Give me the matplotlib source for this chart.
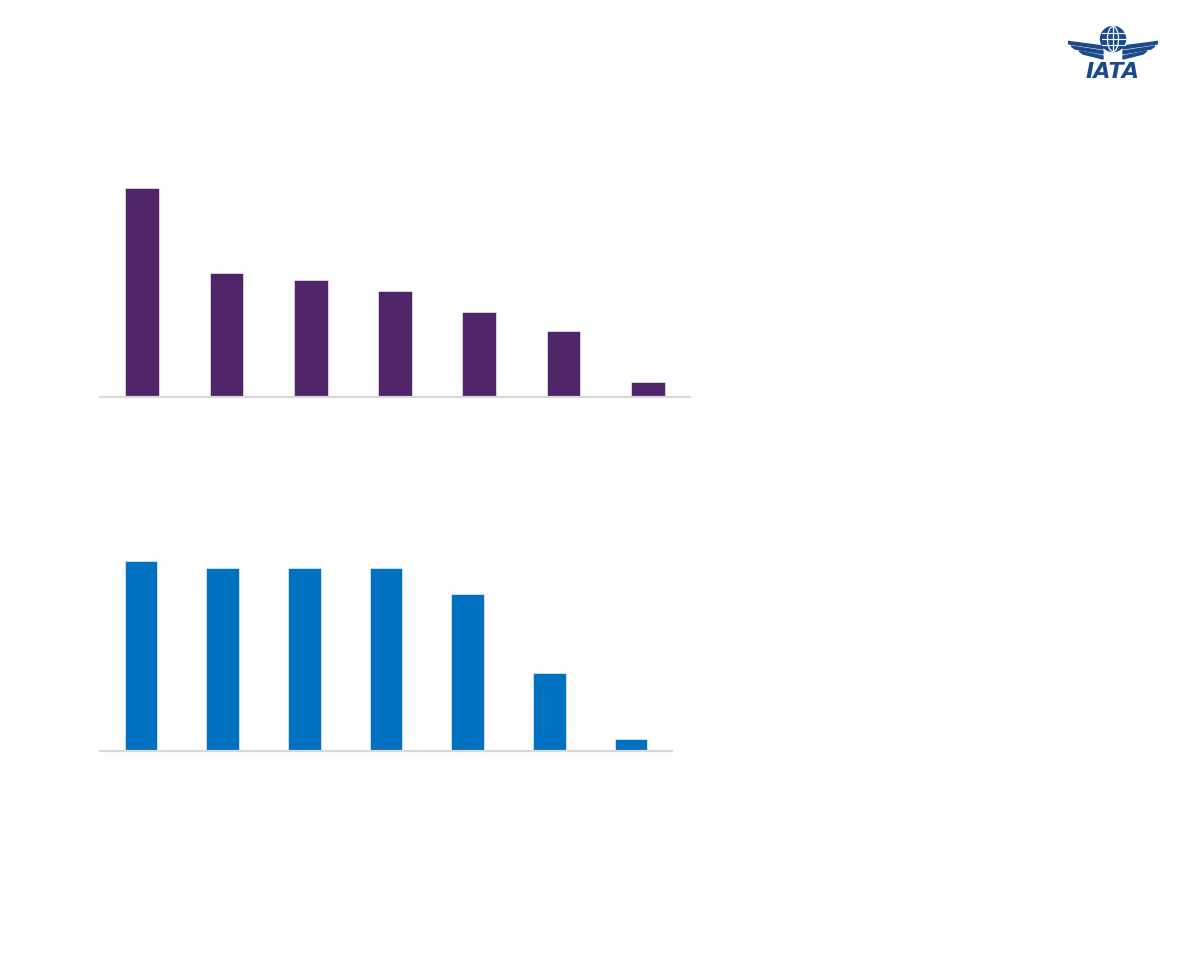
import matplotlib
matplotlib.use("Agg")
import matplotlib.pyplot as plt
from matplotlib.patches import Circle, Ellipse, Polygon

# values (no labels shown in the reference)
cats = list(range(7))
top_vals = [20.9, 12.4, 11.7, 10.6, 8.5, 6.6, 1.5]
bottom_vals = [19.0, 18.3, 18.3, 18.3, 15.7, 7.8, 1.2]

PURPLE = "#4f2469"
BLUE = "#0070c0"
GRID = "#d9d9d9"
NAVY = "#1a4a8c"

W, H = 1188, 972
fig = plt.figure(figsize=(W / 100, H / 100), dpi=100)
fig.patch.set_facecolor("white")


def px_axes(x0, x1, y_top, y_base):
    return fig.add_axes([x0 / W, (H - y_base) / H, (x1 - x0) / W, (y_base - y_top) / H])


def bar_panel(ax, vals, color, ymax):
    ax.bar(cats, vals, width=0.40, color=color, edgecolor="white", linewidth=0.4, zorder=2)
    ax.set_xlim(-0.5, len(cats) - 0.5)
    ax.set_ylim(0, ymax)
    for s in ["top", "right", "left"]:
        ax.spines[s].set_visible(False)
    ax.spines["bottom"].set_color(GRID)
    ax.spines["bottom"].set_linewidth(1.6)
    ax.set_xticks([])
    ax.set_yticks([])
    ax.patch.set_alpha(0)


ax1 = px_axes(100, 690, 170, 397)
bar_panel(ax1, top_vals, PURPLE, 22.7)

ax2 = px_axes(100, 672, 540, 751)
bar_panel(ax2, bottom_vals, BLUE, 21.1)

# IATA logo, top right
logo = fig.add_axes([1068 / W, (H - 82) / H, 90 / W, 62 / H])
logo.set_xlim(0, 90)
logo.set_ylim(62, 0)
logo.set_aspect("equal")
logo.axis("off")
logo.add_patch(Circle((45, 19), 12.5, color=NAVY))
logo.add_patch(Ellipse((45, 19), 11, 25, fill=False, ec="white", lw=0.9))
logo.plot([45, 45], [6.5, 31.5], color="white", lw=0.9)
for yy in (13, 19, 25):
    logo.plot([33.5, 56.5], [yy, yy], color="white", lw=0.8)
# wings, sloping up toward the tips
for side in (-1, 1):
    for i, (y0, length) in enumerate([(26, 38), (31, 32), (36, 24)]):
        x_in = 45 + side * 10
        x_out = 45 + side * (10 + length)
        pts = [(x_in, y0), (x_out, y0 - 5), (x_out - side * 4, y0 - 2), (x_in, y0 + 3)]
        logo.add_patch(Polygon(pts, closed=True, color=NAVY))
logo.text(45, 52, "IATA", ha="center", va="center", fontsize=16, fontweight="bold",
          style="italic", color=NAVY, family="DejaVu Sans")

fig.savefig("out.png", dpi=100, facecolor="white")
